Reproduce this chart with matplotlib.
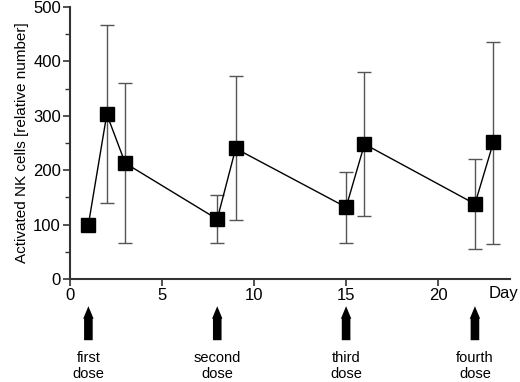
import numpy as np
import matplotlib.pyplot as plt

# data
days = [1, 2, 3, 8, 9, 15, 16, 22, 23]
nk_cells = [100, 303, 213, 110, 240, 132, 248, 138, 251]
err_low = [100, 140, 66, 66, 108, 67, 116, 55, 65]
err_high = [100, 467, 360, 155, 373, 196, 381, 220, 435]

dose_days = [1, 8, 15, 22]
dose_labels = ['first\ndose', 'second\ndose', 'third\ndose', 'fourth\ndose']

plt.rcParams['font.family'] = ['Liberation Sans', 'DejaVu Sans']

fig = plt.figure(figsize=(5.2, 3.82), dpi=100)
ax = fig.add_axes([0.1346, 0.2696, 0.846, 0.712])

y = np.array(nk_cells)
yerr = [y - np.array(err_low), np.array(err_high) - y]
ax.errorbar(days, y, yerr=yerr, fmt='none', ecolor='#555555', elinewidth=1.0,
            capsize=5, capthick=1.0, zorder=2)
ax.plot(days, y, '-', color='black', lw=1.0, zorder=3)
ax.plot(days, y, 's', color='black', markersize=9.5, zorder=4)

ax.set_xlim(0, 23.9)
ax.set_ylim(0, 500)
ax.set_xticks([0, 5, 10, 15, 20])
ax.set_yticks([0, 100, 200, 300, 400, 500])
ax.set_yticks(np.arange(50, 500, 100), minor=True)

for s in ['top', 'right']:
    ax.spines[s].set_visible(False)
for s in ['left', 'bottom']:
    ax.spines[s].set_linewidth(1.5)
    ax.spines[s].set_color('#333333')

ax.tick_params(axis='both', which='major', direction='out', length=5, width=1.2,
               color='#333333', labelsize=12, pad=1.5)
ax.tick_params(axis='y', which='minor', direction='out', length=3.5, width=1.0,
               color='#333333')
ax.set_ylabel('Activated NK cells [relative number]', fontsize=11, labelpad=3)

ax.text(22.75, -0.025, 'Day', transform=ax.get_xaxis_transform(),
        ha='left', va='top', fontsize=12)

for d, lab in zip(dose_days, dose_labels):
    ax.annotate('', xy=(d, -0.10), xytext=(d, -0.225),
                xycoords=('data', 'axes fraction'),
                textcoords=('data', 'axes fraction'),
                arrowprops=dict(arrowstyle='simple,head_length=0.9,head_width=0.75,tail_width=0.62',
                                color='black', lw=0, shrinkA=0, shrinkB=0))
    ax.text(d, -0.32, lab, transform=ax.get_xaxis_transform(),
            ha='center', va='center', fontsize=10.5, linespacing=1.15)

fig.savefig('out.png', dpi=100)
